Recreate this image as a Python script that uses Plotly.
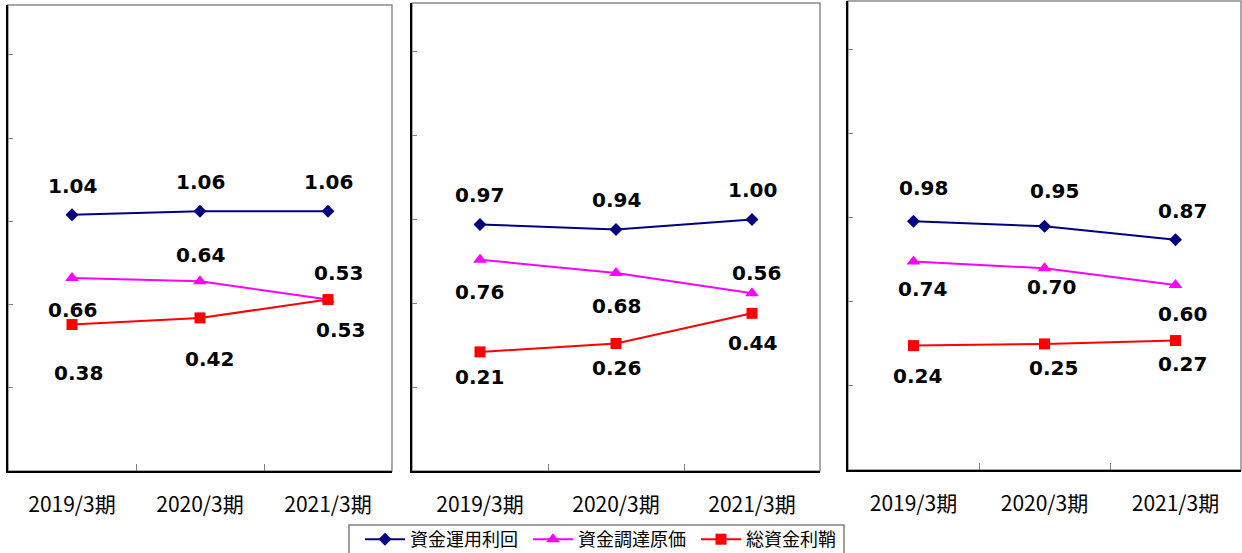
import plotly.graph_objects as go

categories = ["2019/3期", "2020/3期", "2021/3期"]
series_names = ["資金運用利回", "資金調達原価", "総資金利鞘"]

# panel 1
p1_yield = [1.04, 1.06, 1.06]
p1_cost = [0.66, 0.64, 0.53]
p1_margin = [0.38, 0.42, 0.53]
# panel 2
p2_yield = [0.97, 0.94, 1.00]
p2_cost = [0.76, 0.68, 0.56]
p2_margin = [0.21, 0.26, 0.44]
# panel 3
p3_yield = [0.98, 0.95, 0.87]
p3_cost = [0.74, 0.70, 0.60]
p3_margin = [0.24, 0.25, 0.27]

panels = [
    [p1_yield, p1_cost, p1_margin],
    [p2_yield, p2_cost, p2_margin],
    [p3_yield, p3_cost, p3_margin],
]

# label offsets (px) per panel / series / point: (xshift, yshift)
label_offsets = [
    [[(0, 29), (0, 29), (0, 29)],
     [(0, -32), (0, 26), (10, 27)],
     [(6, -48), (9, -41), (12, -30)]],
    [[(0, 29), (0, 29), (0, 29)],
     [(0, -32), (0, -33), (4, 20)],
     [(0, -25), (0, -24), (0, -30)]],
    [[(10, 33), (10, 35), (7, 29)],
     [(9, -27), (7, -19), (7, -29)],
     [(4, -30), (9, -24), (7, -23)]],
]

W, H = 1242, 553
# pixel boxes of plot areas: (left, right, top, bottom)
boxes = [(8, 392, 5, 471), (412, 820, 3, 471), (848, 1241, 1, 470)]
yranges = [[-0.5, 2.3], [-0.5, 2.29], [-0.5, 2.29]]

colors = ["#000080", "#FF00FF", "#FF0000"]
symbols = ["diamond", "triangle-up", "square"]
msizes = [10, 12, 11]

fig = go.Figure()
annotations = []
shapes = []
layout = {}
for p, data in enumerate(panels):
    sfx = "" if p == 0 else str(p + 1)
    xa, ya = "x" + sfx, "y" + sfx
    for s, vals in enumerate(data):
        fig.add_trace(go.Scatter(
            x=categories, y=vals, xaxis=xa, yaxis=ya,
            mode="lines+markers", name=series_names[s],
            line=dict(color=colors[s], width=2),
            marker=dict(symbol=symbols[s], size=msizes[s], color=colors[s]),
            showlegend=(p == 0), legendgroup=series_names[s],
            hoverinfo="skip",
        ))
        for i, v in enumerate(vals):
            dx, dy = label_offsets[p][s][i]
            annotations.append(dict(
                x=categories[i], y=v, xref=xa, yref=ya, text=f"<b>{v:.2f}</b>",
                showarrow=False, xshift=dx, yshift=dy,
                font=dict(family="DejaVu Sans", size=20, color="#000000"),
            ))
    l, r, t, b = boxes[p]
    dom_x = [l / W, r / W]
    dom_y = [1 - b / H, 1 - t / H]
    shapes.append(dict(type="rect", xref="paper", yref="paper",
                       x0=dom_x[0], x1=dom_x[1], y0=dom_y[0], y1=dom_y[1],
                       line=dict(color="#8c8c8c", width=1.5), layer="below"))
    layout["xaxis" + sfx] = dict(
        domain=dom_x, anchor=ya, type="category", tickson="boundaries",
        ticks="inside", ticklen=7, tickcolor="#808080", tickwidth=1,
        showline=True, linecolor="#000000", linewidth=1.5, showgrid=False,
        zeroline=False, range=[-0.5, 2.5],
        tickfont=dict(family="Noto Sans CJK JP", size=21, color="#000000"),
        ticklabelstandoff=14, fixedrange=True,
    )
    layout["yaxis" + sfx] = dict(
        domain=dom_y, anchor=xa, range=yranges[p], dtick=0.5, tick0=0,
        ticks="inside", ticklen=5, tickcolor="#808080", tickwidth=1,
        showticklabels=False, showline=True, linecolor="#000000", linewidth=1.5,
        showgrid=False, zeroline=False, fixedrange=True,
    )

# legend frame
shapes.append(dict(type="rect", xref="paper", yref="paper",
                   x0=349 / W, x1=844 / W, y0=1 - 558 / H, y1=1 - 525 / H,
                   line=dict(color="#808080", width=1.5)))

fig.update_layout(
    width=W, height=H, margin=dict(l=0, r=0, t=0, b=0, autoexpand=False),
    paper_bgcolor="white", plot_bgcolor="white",
    annotations=annotations, shapes=shapes,
    legend=dict(orientation="h", x=360 / W, y=1 - 521 / H, xanchor="left", yanchor="top",
                borderwidth=0, bgcolor="rgba(0,0,0,0)",
                font=dict(family="Noto Sans CJK JP", size=18, color="#000000"),
                itemwidth=40, entrywidth=113, tracegroupgap=0),
    **layout,
)
fig.write_html("out.html", config={"displayModeBar": False})

with open("out.html", encoding="utf-8") as f:
    html = f.read()
html = html.replace("<head>", "<head><style>html,body{margin:0;padding:0;overflow:hidden}</style>", 1)
with open("out.html", "w", encoding="utf-8") as f:
    f.write(html)
